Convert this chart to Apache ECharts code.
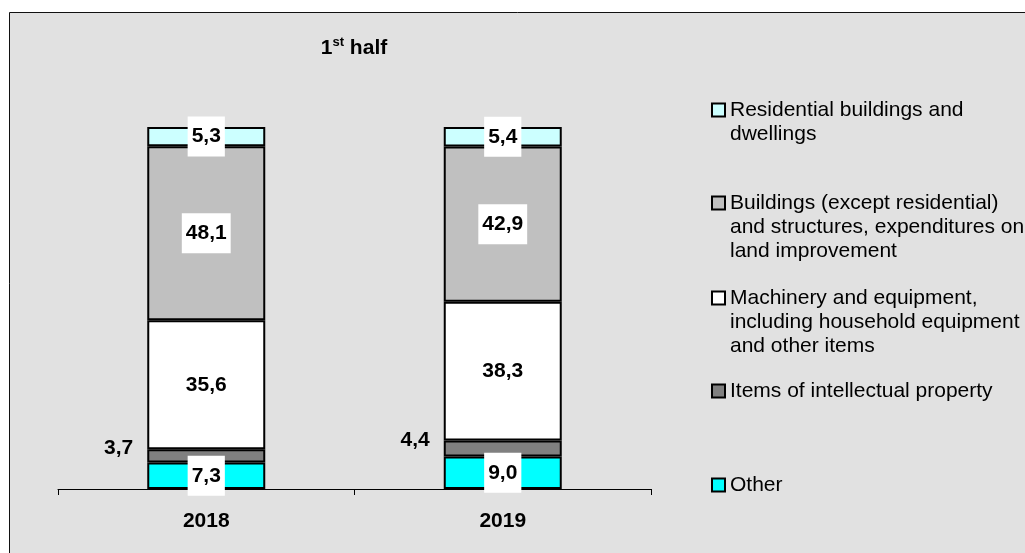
<!DOCTYPE html>
<html>
<head>
<meta charset="utf-8">
<script src="https://cdn.jsdelivr.net/npm/echarts@6/dist/echarts.min.js"></script>
<style>
html,body{margin:0;padding:0;background:#fff;}
#chart{width:1025px;height:553px;}
</style>
</head>
<body>
<div id="chart"></div>
<script>
const categories = ['2018', '2019'];
const otherVals = [7.3, 9.0];
const ipVals = [3.7, 4.4];
const machineryVals = [35.6, 38.3];
const buildingsVals = [48.1, 42.9];
const residentialVals = [5.3, 5.4];
const seriesNames = [
  'Other',
  'Items of intellectual property',
  'Machinery and equipment,\nincluding household equipment\nand other items',
  'Buildings (except residential)\nand structures, expenditures on\nland improvement',
  'Residential buildings and\ndwellings'
];

const FONT = '"Liberation Sans", Arial, sans-serif';
const fmt = p => p.value.toFixed(1).replace('.', ',');

const boxLabel = {
  show: true,
  position: 'inside',
  formatter: fmt,
  color: '#000',
  fontFamily: FONT,
  fontWeight: 'bold',
  fontSize: 21,
  lineHeight: 24,
  backgroundColor: '#fff',
  padding: [8, 4]
};

function barSeries(name, data, color, label) {
  return {
    name: name,
    type: 'bar',
    stack: 'total',
    data: data,
    barWidth: 118,
    itemStyle: { color: color, borderColor: '#000', borderWidth: 2 },
    label: label,
    emphasis: { disabled: true }
  };
}

// icon aligned with first text line: prepend (lines-1) empty lines so the
// vertically centred text block has its first real line at the icon
function legendFor(name, top) {
  const lines = name.split('\n').length;
  return {
    data: [name],
    orient: 'vertical',
    left: 711,
    top: top,
    padding: 0,
    icon: 'rect',
    itemWidth: 13,
    itemHeight: 13,
    selectedMode: false,
    formatter: n => '\n'.repeat(lines - 1) + n,
    textStyle: {
      fontFamily: FONT,
      fontSize: 21,
      lineHeight: 24,
      color: '#000'
    }
  };
}

const chart = echarts.init(document.getElementById('chart'), null, { renderer: 'canvas' });
chart.setOption({
  animation: false,
  backgroundColor: '#ffffff',
  graphic: [{
    type: 'rect',
    z: -10,
    silent: true,
    shape: { x: 9.5, y: 12.5, width: 1100, height: 600 },
    style: { fill: '#e1e1e1', stroke: '#111', lineWidth: 1 }
  }],
  title: {
    text: '{a|1}{s|st}{a| half}',
    left: 354,
    top: 36,
    padding: 0,
    textAlign: 'center',
    textStyle: {
      rich: {
        a: { fontFamily: FONT, fontSize: 21, fontWeight: 'bold', color: '#000', lineHeight: 24 },
        s: { fontFamily: FONT, fontSize: 13, fontWeight: 'bold', color: '#000', lineHeight: 13, verticalAlign: 'top' }
      }
    }
  },
  legend: [
    legendFor(seriesNames[4], 74),
    legendFor(seriesNames[3], 143),
    legendFor(seriesNames[2], 238),
    legendFor(seriesNames[1], 379),
    legendFor(seriesNames[0], 473)
  ],
  grid: { left: 58, right: 374, top: 127, bottom: 64, containLabel: false, outerBoundsMode: 'none' },
  xAxis: {
    type: 'category',
    data: categories,
    axisLine: { lineStyle: { color: '#000', width: 1 } },
    axisTick: { show: true, length: 6, lineStyle: { color: '#000' } },
    axisLabel: { margin: 20, color: '#000', fontFamily: FONT, fontWeight: 'bold', fontSize: 21, lineHeight: 24 }
  },
  yAxis: {
    type: 'value',
    min: 0,
    max: 100,
    show: false,
    splitLine: { show: false }
  },
  series: [
    barSeries(seriesNames[0], otherVals, '#00ffff', boxLabel),
    barSeries(seriesNames[1], ipVals, '#808080', {
      show: true, position: 'left', distance: 14, offset: [0, -8], formatter: fmt,
      color: '#000', fontFamily: FONT, fontWeight: 'bold', fontSize: 21, lineHeight: 24
    }),
    barSeries(seriesNames[2], machineryVals, '#ffffff', boxLabel),
    barSeries(seriesNames[3], buildingsVals, '#c0c0c0', boxLabel),
    barSeries(seriesNames[4], residentialVals, '#ccffff', boxLabel)
  ]
});
</script>
</body>
</html>
